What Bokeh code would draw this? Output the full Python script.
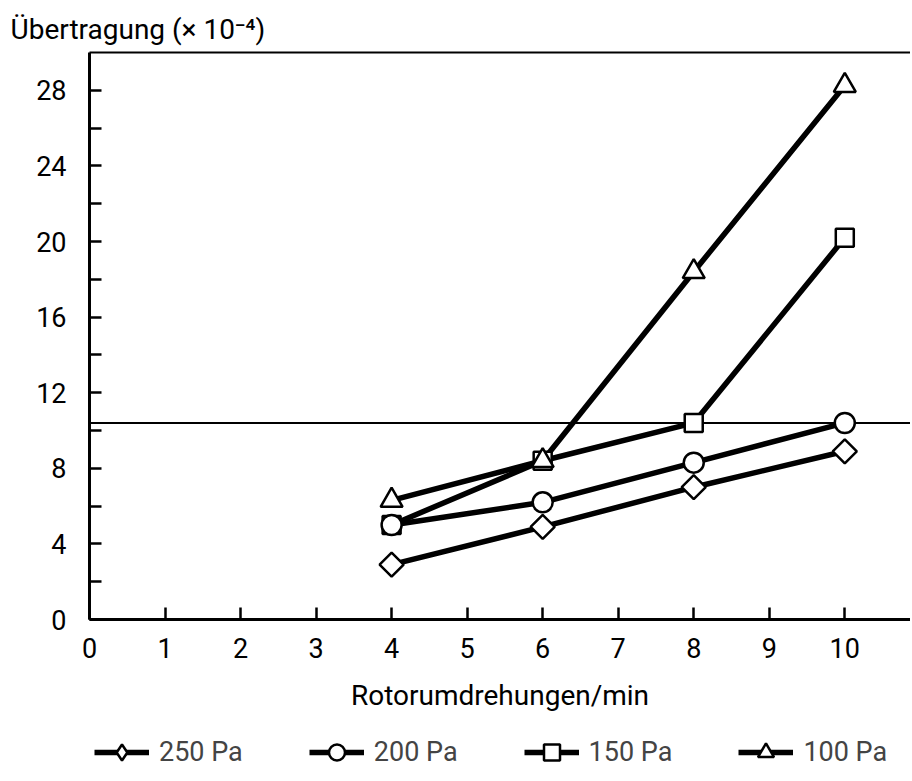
import math
from bokeh.plotting import figure
from bokeh.layouts import column
from bokeh.models import FixedTicker, LinearAxis, Span, Legend, LegendItem, Range1d
from bokeh.embed import file_html
from bokeh.resources import INLINE

# ---- data ----
rotor_speed = [4, 6, 8, 10]
transfer_250 = [2.9, 4.9, 7.0, 8.9]
transfer_200 = [5.0, 6.2, 8.3, 10.4]
transfer_150 = [5.0, 8.4, 10.4, 20.2]
transfer_100 = [6.3, 8.4, 18.4, 28.25]
series_labels = ["250 Pa", "200 Pa", "150 Pa", "100 Pa"]
reference_level = 10.4
x_ticks = list(range(0, 11))
y_ticks = list(range(0, 29, 2))
y_label_step = 4

FONT = "Roboto"
W = 910

p = figure(width=W, height=720, output_backend="svg", toolbar_location=None,
           x_range=Range1d(0, 10.87), y_range=Range1d(0, 30),
           min_border_left=89, min_border_right=0, min_border_top=52,
           min_border_bottom=101, x_axis_label="Rotorumdrehungen/min")
p.outline_line_color = None
p.grid.visible = False

p.title.text = "Übertragung (× 10⁻⁴)"
p.title.align = "left"
p.title.vertical_align = "top"
p.title.offset = -79
p.title.text_font = FONT
p.title.text_font_size = "28px"
p.title.text_font_style = "normal"
p.title.text_color = "black"

for ax in (p.xaxis[0], p.yaxis[0]):
    ax.axis_line_width = 3
    ax.axis_line_color = "black"
    ax.major_tick_in = 12
    ax.major_tick_out = 0
    ax.major_tick_line_width = 2.5
    ax.major_tick_line_color = "black"
    ax.minor_tick_line_color = None
    ax.major_label_text_font = FONT
    ax.major_label_text_font_size = "27px"
    ax.major_label_text_color = "black"

p.xaxis.ticker = FixedTicker(ticks=x_ticks)
p.yaxis.ticker = FixedTicker(ticks=y_ticks)
p.yaxis.major_label_overrides = {t: "" for t in y_ticks if t % y_label_step}
p.yaxis.major_label_standoff = 23
p.xaxis.major_label_standoff = 18
p.xaxis.axis_label_text_font = FONT
p.xaxis.axis_label_text_font_size = "28px"
p.xaxis.axis_label_text_font_style = "normal"
p.xaxis.axis_label_text_color = "black"
p.xaxis.axis_label_standoff = 18

top = LinearAxis(axis_line_width=2, axis_line_color="black",
                 major_tick_line_color=None, minor_tick_line_color=None,
                 major_label_text_font_size="0px", ticker=FixedTicker(ticks=[]))
p.add_layout(top, "above")

span = Span(location=reference_level, dimension="width", line_color="black",
            line_width=2, level="underlay")
p.add_layout(span)

series = [transfer_250, transfer_200, transfer_150, transfer_100]
markers = [("square", math.pi / 4, 17), ("circle", 0, 20), ("square", 0, 18), ("triangle", 0, 22)]

for vals in series:
    p.line(rotor_speed, vals, line_width=5.5, line_color="black", line_join="round")

for i in [0, 2, 1, 3]:
    m, ang, sz = markers[i]
    p.scatter(rotor_speed, series[i], marker=m, angle=ang, size=sz,
              fill_color="white", line_color="black", line_width=2.5)

# ---- legend strip below the chart ----
lf = figure(width=W, height=58, output_backend="svg", toolbar_location=None,
            x_range=Range1d(0, 1), y_range=Range1d(0, 1),
            x_axis_location=None, y_axis_location=None,
            min_border=0, outline_line_color=None)
lf.grid.visible = False
legend_markers = ["diamond", "circle", "square", "triangle"]
items = []
for i, vals in enumerate(series):
    lr = lf.line(rotor_speed, vals, line_width=5.5, line_color="black", visible=False)
    sr = lf.scatter(rotor_speed, vals, marker=legend_markers[i], size=18,
                    fill_color="white", line_color="black", line_width=2.5, visible=False)
    items.append(LegendItem(label=series_labels[i], renderers=[lr, sr]))

legend = Legend(items=items, orientation="horizontal", location=(5, 6),
                glyph_width=55, glyph_height=40, label_standoff=10, spacing=66,
                border_line_color=None, background_fill_alpha=0, inactive_fill_alpha=0,
                label_text_font=FONT, label_text_font_size="27px", padding=5, margin=0)
lf.add_layout(legend, "center")

open("out.html", "w").write(file_html(column(p, lf), INLINE))
